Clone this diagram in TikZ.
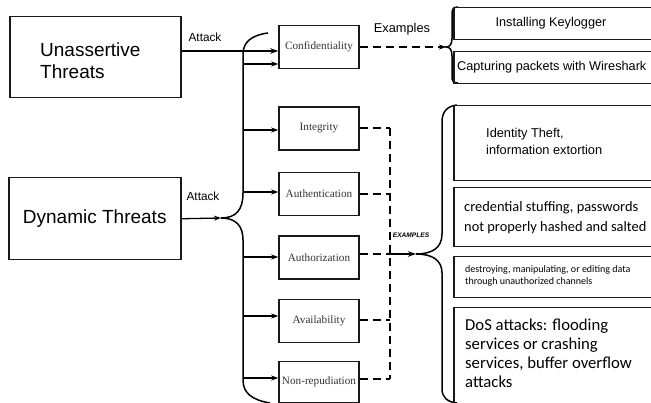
\documentclass[tikz,border=0pt]{standalone}
\usepackage{fontspec}
\setmainfont{Liberation Sans}
\newfontfamily\serifx{Liberation Serif}
\newfontfamily\calib{Carlito}
\usetikzlibrary{arrows.meta}
\begin{document}
\begin{tikzpicture}[x=1pt,y=-1pt,
  box/.style={draw=black!90, line width=1.5pt, inner sep=0pt},
  midbox/.style={box, minimum width=80pt, minimum height=43pt, font=\serifx\fontsize{11.2}{12}\selectfont, text=black!80},
  exbox/.style={box, anchor=north west},
  arr/.style={line width=1.3pt, -{Stealth[length=7pt,width=5pt]}},
  thickarr/.style={line width=2.2pt, -{Stealth[length=8pt,width=5.5pt]}},
  dsh/.style={line width=1.4pt, dash pattern=on 8pt off 5pt},
  brace/.style={line width=1.5pt},
  lbl/.style={font=\fontsize{11.8}{13}\selectfont, inner sep=0pt}]
\useasboundingbox (0,0) rectangle (651,403);
\clip (0,0) rectangle (651,403);
% threat boxes
\node[box, anchor=north west, minimum width=171pt, minimum height=81pt] (ua) at (9,16) {};
\node[anchor=west, align=left, inner sep=0pt, font=\fontsize{19}{22}\selectfont] (uat) at (40,61) {Unassertive\\Threats};
\node[box, anchor=north west, minimum width=172pt, minimum height=82pt, font=\fontsize{19}{22}\selectfont] (dt) at (8,177) {Dynamic Threats};
% middle boxes
\node[midbox] (conf) at (319,47) {Confidentiality};
\node[midbox] (integ) at (319,128.5) {Integrity};
\node[midbox] (authn) at (319,194) {Authentication};
\node[midbox] (authz) at (319,257.5) {Authorization};
\node[midbox] (avail) at (319,321) {Availability};
\node[midbox, minimum height=41pt] (nonrep) at (319,382) {Non-repudiation};
% left brace
\coordinate (tip) at (221,218);
\draw[brace] (268,33) .. controls (252,35) and (243,42) .. (243,54) -- (243,193)
  .. controls (243,210) and (236,218) .. (tip)
  .. controls (236,218) and (243,226) .. (243,240) -- (243,380)
  .. controls (243,393) and (252,400) .. (270,403);
\coordinate (cA) at (0,51);
\draw[thickarr] (ua.east |- cA) -- (conf.west |- cA);
\node[lbl] (atk1) at (205,37) {Attack};
\draw[arr] (dt.east) -- (tip);
\node[lbl] (atk2) at (203,196) {Attack};
\coordinate (b1) at (243,64);
\coordinate (b2) at (243,130);
\coordinate (b3) at (243,192);
\coordinate (b4) at (243,257);
\coordinate (b5) at (243,316);
\coordinate (b6) at (243,378);
\draw[arr] (b1) -- (b1 -| conf.west);
\draw[arr] (b2) -- (b2 -| integ.west);
\draw[arr] (b3) -- (b3 -| authn.west);
\draw[arr] (b4) -- (b4 -| authz.west);
\draw[arr] (b5) -- (b5 -| avail.west);
\draw[arr] (b6) -- (b6 -| nonrep.west);
% examples (top)
\coordinate (etip) at (446,47);
\draw[dsh, -{Stealth[length=7pt,width=5pt]}] (conf.east) -- (etip);
\node[lbl, font=\fontsize{12.8}{14}\selectfont] (exl) at (402,29) {Examples};
\draw[brace] (458,7) .. controls (453,7) and (452,9) .. (452,15) -- (452,38)
  .. controls (452,44) and (450,47) .. (etip)
  .. controls (450,47) and (452,50) .. (452,56) -- (452,76)
  .. controls (452,81) and (453,83) .. (458,83);
\node[exbox, minimum width=210pt, minimum height=32pt] (k1) at (453,7) {};
\node[font=\fontsize{12.7}{14}\selectfont, inner sep=0pt] (k1t) at (551,23) {Installing Keylogger};
\node[exbox, minimum width=210pt, minimum height=32pt] (k2) at (453,51) {};
\node[anchor=west, font=\fontsize{12.7}{14}\selectfont, inner sep=0pt] (k2t) at (457,67) {Capturing packets with Wireshark};
% dashed collector
\coordinate (d1) at (390,128);
\coordinate (d2) at (390,194);
\coordinate (d3) at (390,254);
\coordinate (d4) at (390,320);
\coordinate (d5) at (390,379);
\draw[dsh] (integ.east |- d1) -- (d1);
\draw[dsh] (authn.east |- d2) -- (d2);
\draw[dsh] (authz.east |- d3) -- (d3);
\draw[dsh] (avail.east |- d4) -- (d4);
\draw[dsh] (nonrep.east |- d5) -- (d5);
\draw[dsh] (d1) -- (d5);
\coordinate (rtip) at (416,254);
\draw[line width=1.9pt, -{Stealth[length=8pt,width=5.5pt]}] (d3) -- (rtip);
\node[inner sep=0pt, font=\bfseries\itshape\fontsize{6.6}{7}\selectfont] (exl2) at (411,235) {EXAMPLES};
% right brace
\draw[brace] (457,105) .. controls (447,106) and (442,112) .. (442,122) -- (442,234)
  .. controls (442,248) and (432,254) .. (rtip)
  .. controls (432,254) and (442,260) .. (442,273) -- (442,389)
  .. controls (442,397) and (447,402) .. (457,403);
% right boxes
\node[exbox, minimum width=198pt, minimum height=75pt] (r1) at (453,105) {};
\node[anchor=west, align=left, inner sep=0pt, font=\fontsize{12.8}{17}\selectfont] (r1t) at (486,141.5) {Identity Theft,\\information extortion};
\node[exbox, minimum width=210pt, minimum height=59pt] (r2) at (453,187) {};
\node[anchor=west, align=left, inner sep=0pt, font=\calib\fontsize{14.4}{20}\selectfont] (r2t) at (464,218) {credential stuffing, passwords\\not properly hashed and salted};
\node[exbox, minimum width=210pt, minimum height=41pt] (r3) at (453,256) {};
\node[anchor=west, align=left, inner sep=0pt, font=\calib\fontsize{10}{12}\selectfont] (r3t) at (465,276) {destroying, manipulating, or editing data\\through unauthorized channels};
\node[exbox, minimum width=210pt, minimum height=100pt] (r4) at (453,307) {};
\node[anchor=north west, align=left, inner sep=0pt, font=\calib\fontsize{16.7}{19}\selectfont] (r4t) at (465,319) {DoS attacks: flooding\\services or crashing\\services, buffer overflow\\attacks};
\end{tikzpicture}
\end{document}
